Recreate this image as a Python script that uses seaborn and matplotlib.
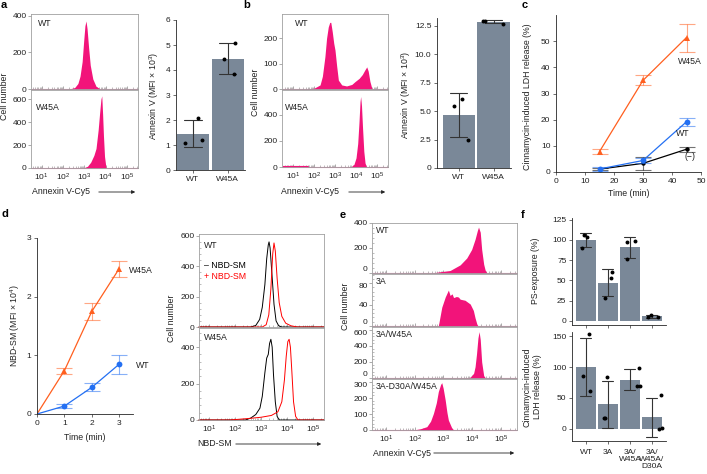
import numpy as np
import pandas as pd
import matplotlib
matplotlib.use('Agg')
import matplotlib.pyplot as plt
import seaborn as sns
from matplotlib.patches import FancyArrowPatch
from matplotlib.ticker import LogLocator, NullFormatter, AutoMinorLocator

# ---------------- data ----------------
# panel a histograms (log10 fluorescence, cell count)
a_wt_logx = [2.30, 2.55, 2.70, 2.80, 2.90, 2.97, 3.03, 3.08, 3.13, 3.20, 3.28, 3.40, 3.55, 3.75]
a_wt_count = [0, 8, 30, 70, 150, 260, 345, 372, 330, 230, 130, 55, 15, 0]
a_w45a_logx = [2.95, 3.15, 3.30, 3.45, 3.55, 3.65, 3.72, 3.78, 3.82, 3.86, 3.90, 3.95, 4.02]
a_w45a_count = [0, 15, 50, 110, 170, 330, 480, 600, 629, 470, 280, 100, 0]
# panel a bars (individual replicates)
a_groups = ['WT', 'W45A']
a_wt_pts = [1.07, 2.08, 1.20]
a_w45a_pts = [4.43, 5.07, 3.83]
a_wt_jit = [-0.23, 0.16, 0.25]
a_w45a_jit = [-0.09, 0.20, 0.17]

# panel b histograms
b_wt_logx = [1.70, 2.00, 2.29, 2.40, 2.52, 2.60, 2.68, 2.75, 2.80, 2.87, 2.94, 3.00, 3.08, 3.16,
             3.32, 3.55, 3.80, 3.95, 4.15, 4.30, 4.42, 4.51, 4.58, 4.66, 4.76]
b_wt_count = [0, 3, 16, 50, 127, 200, 244, 262, 262, 225, 180, 153, 90, 35,
              16, 12, 18, 29, 42, 57, 75, 87, 70, 30, 0]
b_w45a_logx = [0.50, 1.72, 1.74, 3.75, 3.90, 4.00, 4.08, 4.14, 4.19, 4.22, 4.26, 4.31, 4.37, 4.43, 4.50]
b_w45a_count = [12, 12, 0, 0, 20, 70, 180, 340, 500, 540, 470, 300, 120, 30, 0]
# panel b bars
b_groups = ['WT', 'W45A']
b_wt_pts = [5.50, 6.09, 2.44]
b_w45a_pts = [12.94, 12.91, 12.70]
b_wt_jit = [-0.14, 0.11, 0.28]
b_w45a_jit = [-0.30, -0.24, 0.28]

# panel c time course
c_time = [15, 30, 45]
c_w45a = [7.8, 35.0, 51.4]
c_w45a_lo = [6.9, 33.2, 45.9]
c_w45a_hi = [8.7, 37.0, 56.5]
c_wt = [1.15, 4.4, 19.2]
c_wt_lo = [0.5, 3.6, 17.7]
c_wt_hi = [1.8, 5.3, 20.8]
c_neg = [1.1, 3.3, 8.7]
c_neg_lo = [0.6, 0.8, 7.8]
c_neg_hi = [1.6, 5.6, 9.7]

# panel d time course
d_time = [0, 1, 2, 3]
d_w45a = [0, 0.74, 1.75, 2.48]
d_w45a_lo = [0, 0.69, 1.61, 2.33]
d_w45a_hi = [0, 0.78, 1.89, 2.61]
d_wt = [0, 0.136, 0.455, 0.85]
d_wt_lo = [0, 0.11, 0.39, 0.69]
d_wt_hi = [0, 0.17, 0.53, 1.00]

# panel d histograms (lines)
d_wt_neg_logx = [2.60, 2.80, 2.95, 3.05, 3.15, 3.22, 3.28, 3.31, 3.35, 3.42, 3.50, 3.58, 3.68, 3.80]
d_wt_neg_count = [0, 10, 50, 130, 280, 450, 540, 560, 520, 350, 150, 40, 8, 0]
d_wt_pos_logx = [3.05, 3.20, 3.30, 3.38, 3.45, 3.50, 3.55, 3.62, 3.70, 3.80, 3.95, 4.15, 4.40]
d_wt_pos_count = [0, 15, 80, 250, 480, 553, 500, 320, 160, 70, 25, 8, 0]
d_w45a_neg_logx = [2.40, 2.60, 2.80, 2.96, 3.05, 3.15, 3.22, 3.28, 3.33, 3.38, 3.43, 3.48, 3.55, 3.62, 3.70]
d_w45a_neg_count = [0, 10, 30, 65, 130, 260, 340, 360, 420, 443, 400, 250, 100, 20, 0]
d_w45a_pos_logx = [1.80, 2.50, 3.00, 3.40, 3.65, 3.80, 3.90, 3.97, 4.03, 4.08, 4.13, 4.18, 4.25, 4.33, 4.42]
d_w45a_pos_count = [0, 8, 15, 25, 45, 100, 220, 350, 430, 443, 400, 280, 100, 20, 0]

# panel e histograms
e_wt_logx = [2.60, 2.88, 3.23, 3.58, 3.81, 3.98, 4.10, 4.18, 4.22, 4.28, 4.33, 4.40, 4.45, 4.51]
e_wt_count = [0, 10, 20, 65, 120, 188, 270, 340, 367, 326, 188, 70, 24, 0]
e_3a_logx = [2.82, 2.94, 3.06, 3.17, 3.23, 3.30, 3.35, 3.45, 3.52, 3.58, 3.75, 3.93, 4.04, 4.10, 4.16, 4.20]
e_3a_count = [0, 35, 54, 67, 57, 60, 53, 55, 54, 50, 48, 41, 29, 15, 4, 0]
e_3aw_logx = [3.85, 3.95, 4.05, 4.10, 4.15, 4.20, 4.24, 4.28, 4.33, 4.40, 4.46]
e_3aw_count = [0, 15, 60, 141, 300, 500, 579, 480, 200, 30, 0]
e_3adw_logx = [1.95, 2.20, 2.42, 2.55, 2.65, 2.75, 2.82, 2.90, 2.94, 2.99, 3.06, 3.12, 3.17, 3.29, 3.36]
e_3adw_count = [0, 8, 21, 55, 104, 170, 240, 285, 296, 260, 187, 110, 62, 12, 0]

# panel f bars
f_groups = ['WT', '3A', '3A/\nW45A', '3A/\nW45A/\nD30A']
f_ps_pts = [[106, 104, 90], [53, 60, 28], [98, 99, 76], [5, 7, 4.5]]
f_ps_jit = [[-0.08, 0.03, -0.17], [0.12, 0.17, -0.14], [-0.15, 0.24, -0.12], [-0.20, -0.05, 0.29]]
f_ldh_pts = [[153, 86, 61], [84, 18, 17], [99, 69, 70], [55, 0, 1]]
f_ldh_jit = [[0.14, -0.13, 0.17], [-0.03, -0.14, -0.18], [0.42, 0.30, 0.45], [0.41, 0.33, 0.44]]

# ---------------- style ----------------
sns.set_theme(style='ticks')
plt.rcParams['font.family'] = ['Liberation Sans', 'DejaVu Sans']
plt.rcParams.update({
    'font.size': 6, 'axes.linewidth': 0.6,
    'xtick.labelsize': 6, 'ytick.labelsize': 6,
    'xtick.major.width': 0.6, 'ytick.major.width': 0.6,
    'xtick.major.size': 2.5, 'ytick.major.size': 2.5,
    'xtick.major.pad': 2, 'ytick.major.pad': 1.5,
    'xtick.color': '#333333', 'ytick.color': '#333333',
    'mathtext.fontset': 'custom', 'mathtext.rm': 'Liberation Sans',
    'mathtext.it': 'Liberation Sans', 'mathtext.default': 'regular',
})

PINK = '#F2147A'
ORANGE = '#FF5F1F'
BLUE = '#2470F2'
BARC = '#7A8898'
TXT = '#222222'

W, H = 707, 474
fig = plt.figure(figsize=(W / 100, H / 100), dpi=100)


def box(l, t, r, b):
    return fig.add_axes([l / W, 1 - b / H, (r - l) / W, (b - t) / H])


def ftext(x, y, s, **kw):
    kw.setdefault('fontsize', 6.3)
    kw.setdefault('color', TXT)
    fig.text(x / W, 1 - y / H, s, **kw)


def arrow(x0, x1, y):
    fig.add_artist(FancyArrowPatch((x0 / W, 1 - y / H), (x1 / W, 1 - y / H),
                                   transform=fig.transFigure, arrowstyle='-|>',
                                   mutation_scale=5, lw=0.6, color=TXT))


def hist_axes(l, t, r, b, xlim, ylim, yticks, xlabels, minor_y=False):
    ax = box(l, t, r, b)
    ax.set_xscale('log')
    ax.set_xlim(10 ** xlim[0], 10 ** xlim[1])
    ax.set_ylim(*ylim)
    ax.set_yticks(yticks)
    ax.set_xticks([1e1, 1e2, 1e3, 1e4, 1e5])
    ax.xaxis.set_minor_locator(LogLocator(base=10, subs=np.arange(2, 10), numticks=12))
    ax.xaxis.set_minor_formatter(NullFormatter())
    ax.tick_params(axis='x', which='major', direction='in', length=2, width=0.5,
                   color='#8a8a8a', labelcolor=TXT, pad=3)
    ax.tick_params(axis='x', which='minor', direction='in', length=1.2, width=0.4, color='#8a8a8a')
    ax.tick_params(axis='y', which='major', length=2, width=0.5, color='#8a8a8a', labelcolor=TXT, pad=1)
    if minor_y:
        ax.yaxis.set_minor_locator(AutoMinorLocator(5))
        ax.tick_params(axis='y', which='minor', direction='in', length=1.2, width=0.4, color='#8a8a8a')
    if not xlabels:
        ax.tick_params(axis='x', which='both', labelbottom=False)
    for s in ax.spines.values():
        s.set_color('#a0a0a0')
        s.set_linewidth(0.6)
    ax.grid(False)
    return ax


def stack_labels(ax, first, last):
    """In stacked histogram panels, lift the zero label and drop the top label so they don't collide."""
    ticks = ax.yaxis.get_major_ticks()
    if not last:
        ticks[0].label1.set_va('bottom')
    if not first:
        ticks[-1].label1.set_va('top')


def fill_hist(ax, logx, cnt):
    ax.fill_between(10 ** np.asarray(logx, float), cnt, color=PINK, lw=0)
    ax.axhline(0, color=PINK, lw=0.8, alpha=0.6, clip_on=False)


def line_hist(ax, logx, cnt, color):
    lo, hi = ax.get_xlim()
    x = np.concatenate([[lo], 10 ** np.asarray(logx, float), [hi]])
    y = np.concatenate([[0], cnt, [0]])
    ax.plot(x, y, color=color, lw=0.7, clip_on=False)


def bar_panel(ax, groups, pts, jit, ylim, yticks, xlim):
    df = pd.DataFrame({'g': np.repeat(groups, 3),
                       'v': np.concatenate([np.asarray(p, float) for p in pts])})
    sns.barplot(data=df, x='g', y='v', order=groups, errorbar='sd', color=BARC,
                saturation=1, width=0.92, capsize=0.5, edgecolor='none',
                err_kws={'color': '#333333', 'linewidth': 0.8}, ax=ax)
    for i, (p, j) in enumerate(zip(pts, jit)):
        ax.scatter(i + np.asarray(j), p, s=8, color='black', linewidths=0, zorder=5)
    ax.set_ylim(*ylim)
    ax.set_xlim(*xlim)
    ax.set_yticks(yticks)
    ax.set_xlabel('')
    ax.set_ylabel('')
    sns.despine(ax=ax)
    ax.tick_params(axis='both', length=2.5, width=0.6, color='#555555', labelcolor=TXT)
    ax.grid(False)


# ---------------- panel a ----------------
ax = hist_axes(31, 14, 138, 89, (0.5, 5.52), (0, 410), [0, 200, 400], False)
fill_hist(ax, a_wt_logx, a_wt_count)
ax = hist_axes(31, 90, 138, 168, (0.5, 5.52), (0, 680), [0, 200, 400, 600], True)
fill_hist(ax, a_w45a_logx, a_w45a_count)
ftext(38, 26, 'WT')
ftext(36, 110, 'W45A')
ftext(5, 96, 'Cell number', rotation=90, ha='center', va='center')
ftext(32, 192, 'Annexin V-Cy5', va='center')
arrow(96, 138, 192)

ax = box(176, 20, 245, 170)
bar_panel(ax, a_groups, [a_wt_pts, a_w45a_pts], [a_wt_jit, a_w45a_jit],
          (0, 6), [0, 1, 2, 3, 4, 5, 6], (-0.485, 1.5))
ftext(154, 96, r'Annexin V (MFI × 10$^{3}$)', rotation=90, ha='center', va='center')

# ---------------- panel b ----------------
ax = hist_axes(282, 14, 388, 89, (0.48, 5.52), (0, 295), [0, 100, 200], False)
fill_hist(ax, b_wt_logx, b_wt_count)
ax = hist_axes(282, 90, 388, 167, (0.48, 5.52), (0, 590), [0, 200, 400], True)
fill_hist(ax, b_w45a_logx, b_w45a_count)
ftext(295, 26, 'WT')
ftext(285, 110, 'W45A')
ftext(255, 92, 'Cell number', rotation=90, ha='center', va='center')
ftext(281, 192, 'Annexin V-Cy5', va='center')
arrow(346, 388, 192)

ax = box(437, 18, 511, 168)
bar_panel(ax, b_groups, [b_wt_pts, b_w45a_pts], [b_wt_jit, b_w45a_jit],
          (0, 13.2), [0, 2.5, 5.0, 7.5, 10.0, 12.5], (-0.62, 1.5))
ax.set_yticklabels(['0', '2.5', '5.0', '7.5', '10.0', '12.5'])
ftext(406, 95, r'Annexin V (MFI × 10$^{3}$)', rotation=90, ha='center', va='center')

# ---------------- panel c ----------------
ax = box(556, 15, 701, 172)
for y, lo, hi, col, mk, ms in [(c_neg, c_neg_lo, c_neg_hi, 'black', 'o', 3.2),
                               (c_wt, c_wt_lo, c_wt_hi, BLUE, 'o', 4.2),
                               (c_w45a, c_w45a_lo, c_w45a_hi, ORANGE, '^', 4.8)]:
    y = np.asarray(y)
    ax.errorbar(c_time, y, yerr=[y - np.asarray(lo), np.asarray(hi) - y], fmt='none',
                ecolor=col, elinewidth=0.8, capsize=6, capthick=0.8, alpha=0.55)
    sns.lineplot(x=c_time, y=y, color=col, marker=mk, markersize=ms, markeredgewidth=0,
                 linewidth=0.9, ax=ax)
ax.set_xlim(0, 50)
ax.set_ylim(0, 60)
ax.set_xticks([0, 10, 20, 30, 40, 50])
ax.set_yticks([0, 10, 20, 30, 40, 50])
sns.despine(ax=ax)
ax.tick_params(axis='both', length=2.5, width=0.6, color='#555555', labelcolor=TXT)
ax.grid(False)
ax.text(46.2, 42.3, 'W45A', fontsize=6.3, ha='center', va='center', color=TXT)
ax.text(43.8, 14.6, 'WT', fontsize=6.3, ha='center', va='center', color=TXT)
ax.text(46.2, 5.8, '(−)', fontsize=6.3, ha='center', va='center', color=TXT)
ftext(528, 97, 'Cinnamycin-induced LDH release (%)', rotation=90, ha='center', va='center')
ftext(629, 193, 'Time (min)', ha='center', va='center')

# ---------------- panel d ----------------
ax = box(37, 238, 133, 414)
for y, lo, hi, col, mk, ms in [(d_w45a, d_w45a_lo, d_w45a_hi, ORANGE, '^', 4.8),
                               (d_wt, d_wt_lo, d_wt_hi, BLUE, 'o', 4.2)]:
    y = np.asarray(y)
    ax.errorbar(d_time[1:], y[1:], yerr=[(y - np.asarray(lo))[1:], (np.asarray(hi) - y)[1:]],
                fmt='none', ecolor=col, elinewidth=0.8, capsize=6, capthick=0.8, alpha=0.55)
    sns.lineplot(x=d_time, y=y, color=col, linewidth=0.9, ax=ax)
    ax.plot(d_time[1:], y[1:], linestyle='none', marker=mk, markersize=ms,
            markeredgewidth=0, color=col)
ax.set_xlim(0, 3.5)
ax.set_ylim(0, 3)
ax.set_xticks([0, 1, 2, 3])
ax.set_yticks([0, 1, 2, 3])
sns.despine(ax=ax)
ax.tick_params(axis='both', length=2.5, width=0.6, color='#555555', labelcolor=TXT)
ax.grid(False)
ax.text(3.37, 2.45, 'W45A', fontsize=6.3, ha='left', va='center', color=TXT, clip_on=False)
ax.text(3.62, 0.83, 'WT', fontsize=6.3, ha='left', va='center', color=TXT, clip_on=False)
ftext(15, 326, r'NBD-SM (MFI × 10$^{4}$)', rotation=90, ha='center', va='center')
ftext(85, 437, 'Time (min)', ha='center', va='center')

ax = hist_axes(199, 234, 324, 327, (0.62, 5.42), (0, 612), [0, 200, 400, 600], False, minor_y=True)
line_hist(ax, d_wt_neg_logx, d_wt_neg_count, 'black')
line_hist(ax, d_wt_pos_logx, d_wt_pos_count, 'red')
ax = hist_axes(199, 328, 324, 420, (0.62, 5.42), (0, 505), [0, 200, 400], True, minor_y=True)
line_hist(ax, d_w45a_neg_logx, d_w45a_neg_count, 'black')
line_hist(ax, d_w45a_pos_logx, d_w45a_pos_count, 'red')
ftext(204, 248, 'WT')
ftext(204, 268, '– NBD-SM', color='black')
ftext(204, 279, '+ NBD-SM', color='red')
ftext(204, 340, 'W45A')
ftext(171, 318, 'Cell number', rotation=90, ha='center', va='center')
ftext(197, 444, 'NBD-SM', va='center')
arrow(233, 324, 444)

# ---------------- panel e ----------------
e_boxes = [(223, 273), (274, 326), (327, 378), (379, 430)]
e_ylims = [(0, 400), (0, 97), (0, 637), (0, 319)]
e_yticks = [[0, 200, 400], [0, 40, 80], [0, 200, 400, 600], [0, 100, 200, 300]]
e_data = [(e_wt_logx, e_wt_count), (e_3a_logx, e_3a_count),
          (e_3aw_logx, e_3aw_count), (e_3adw_logx, e_3adw_count)]
e_names = ['WT', '3A', '3A/W45A', '3A-D30A/W45A']
for k in range(4):
    t, b = e_boxes[k]
    ax = hist_axes(372, t, 517, b, (0.51, 5.56), e_ylims[k], e_yticks[k], k == 3, minor_y=True)
    fill_hist(ax, *e_data[k])
    stack_labels(ax, k == 0, k == 3)
    ftext(376, t + 10, e_names[k])
ftext(345, 306, 'Cell number', rotation=90, ha='center', va='center')
ftext(373, 453, 'Annexin V-Cy5', va='center')
arrow(431, 517, 453)

# ---------------- panel f ----------------
ax = box(572, 218, 666, 325)
bar_panel(ax, f_groups, f_ps_pts, f_ps_jit, (-5, 127), [0, 25, 50, 75, 100, 125], (-0.636, 3.64))
ax.tick_params(axis='x', labelbottom=False)
ftext(535, 271, 'PS-exposure (%)', rotation=90, ha='center', va='center')

ax = box(572, 332, 666, 441)
bar_panel(ax, f_groups, f_ldh_pts, f_ldh_jit, (-20, 157), [0, 50, 100, 150], (-0.636, 3.64))
ax.tick_params(axis='x', pad=3)
for lab in ax.get_xticklabels():
    lab.set_va('top')
    lab.set_linespacing(1.0)
ftext(532, 387, 'Cinnamycin-induced\nLDH release (%)', rotation=90, ha='center', va='center',
      linespacing=1.15)

# ---------------- panel letters ----------------
for s, x, y in [('a', 1, 5), ('b', 243, 5), ('c', 522, 5), ('d', 1, 214), ('e', 340, 215), ('f', 521, 215)]:
    ftext(x, y, s, fontsize=8, fontweight='bold', ha='left', va='center', color='black')

fig.savefig('out.png', dpi=100)
